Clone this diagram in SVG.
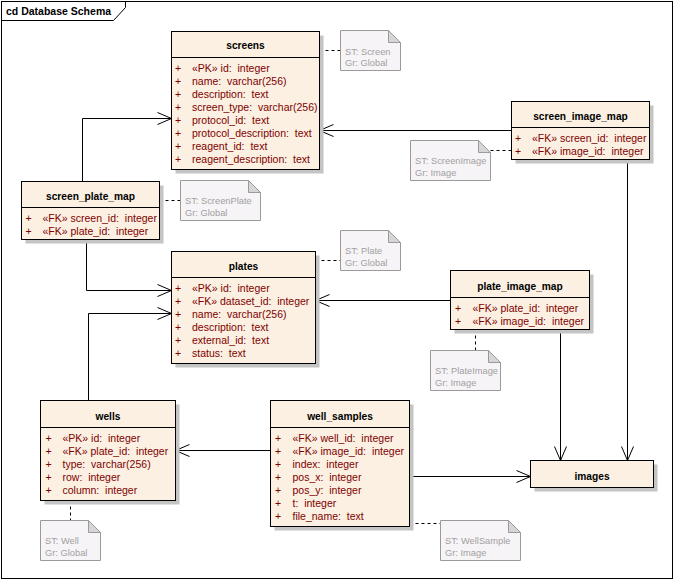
<svg xmlns="http://www.w3.org/2000/svg" width="674" height="580" viewBox="0 0 674 580" xml:space="preserve">
<style>
.bg{fill:#ffffff}
.frame{fill:none;stroke:#000;stroke-width:1}
.ftitle{font-family:"Liberation Sans",Arial,sans-serif;font-size:10.5px;font-weight:bold;fill:#000}
.box{fill:#FBF0E2;stroke:#000;stroke-width:1}
.shadow{fill:#c4c4c4}
.sep{stroke:#000;stroke-width:1}
.title{font-family:"Liberation Sans",Arial,sans-serif;font-size:10.2px;font-weight:bold;fill:#000;text-anchor:middle}
.fld{font-family:"Liberation Sans",Arial,sans-serif;font-size:10.5px;fill:#800000;white-space:pre}
.note{fill:#F7F4F7;stroke:#9a9a9a;stroke-width:1}
.fold{fill:#d6d6d6;stroke:#9a9a9a;stroke-width:1}
.ntxt{font-family:"Liberation Sans",Arial,sans-serif;font-size:9.3px;fill:#a0a0a0}
.dash{fill:none;stroke:#000;stroke-width:1;stroke-dasharray:3,3}
.conn{fill:none;stroke:#000;stroke-width:1;marker-end:url(#arr)}
</style>
<defs>
<marker id="arr" markerUnits="userSpaceOnUse" markerWidth="16" markerHeight="14" viewBox="-15 -7 16 14" refX="0" refY="0" orient="auto">
<path d="M-14,-6 L0,0 L-14,6" fill="none" stroke="#000" stroke-width="1"/>
</marker>
</defs>
<rect class="bg" x="0" y="0" width="674" height="580"/>
<g id="frame">
<rect class="frame" x="1.5" y="1.5" width="671" height="577"/>
<path class="frame" d="M1.5,20.5 H113.5 L125.5,7.5 V1.5"/>
<text class="ftitle" x="6" y="15">cd Database Schema</text>
</g>
<g id="connectors">
<path class="conn" d="M511.5,130.5 H319.5"/>
<path class="conn" d="M627.5,159.5 V460.5"/>
<path class="conn" d="M82.5,181.5 V118.5 H171.5"/>
<path class="conn" d="M86.5,239.5 V290.5 H171.5"/>
<path class="conn" d="M450.5,300.5 H315.5"/>
<path class="conn" d="M560.5,329.5 V460.5"/>
<path class="conn" d="M88.5,400.5 V313.5 H171.5"/>
<path class="conn" d="M270.5,450.5 H175.5"/>
<path class="conn" d="M409.5,476.5 H530.5"/>
<path class="dash" d="M319.5,50.5 H340.5"/>
<path class="dash" d="M490.5,150.5 H511.5"/>
<path class="dash" d="M159.5,200.5 H180.5"/>
<path class="dash" d="M315.5,260.5 H340.5"/>
<path class="dash" d="M475.5,329.5 V350.5"/>
<path class="dash" d="M70.5,500.5 V520.5"/>
<path class="dash" d="M409.5,523.5 H440.5"/>
</g>
<g id="screens">
<rect class="shadow" x="175.5" y="35.5" width="148" height="138"/>
<rect class="box" x="171.5" y="31.5" width="148" height="138"/>
<line class="sep" x1="171.5" y1="57.5" x2="319.5" y2="57.5"/>
<text class="title" x="245.5" y="49">screens</text>
<text class="fld" x="175" y="72">+</text><text class="fld" x="192" y="72">«PK» id:  integer</text>
<text class="fld" x="175" y="85">+</text><text class="fld" x="192" y="85">name:  varchar(256)</text>
<text class="fld" x="175" y="98">+</text><text class="fld" x="192" y="98">description:  text</text>
<text class="fld" x="175" y="111">+</text><text class="fld" x="192" y="111">screen_type:  varchar(256)</text>
<text class="fld" x="175" y="124">+</text><text class="fld" x="192" y="124">protocol_id:  text</text>
<text class="fld" x="175" y="137">+</text><text class="fld" x="192" y="137">protocol_description:  text</text>
<text class="fld" x="175" y="150">+</text><text class="fld" x="192" y="150">reagent_id:  text</text>
<text class="fld" x="175" y="163">+</text><text class="fld" x="192" y="163">reagent_description:  text</text>
</g>
<g id="screen_image_map">
<rect class="shadow" x="515.5" y="105.5" width="138" height="58"/>
<rect class="box" x="511.5" y="101.5" width="138" height="58"/>
<line class="sep" x1="511.5" y1="127.5" x2="649.5" y2="127.5"/>
<text class="title" x="580.5" y="120">screen_image_map</text>
<text class="fld" x="515" y="142">+</text><text class="fld" x="532" y="142">«FK» screen_id:  integer</text>
<text class="fld" x="515" y="155">+</text><text class="fld" x="532" y="155">«FK» image_id:  integer</text>
</g>
<g id="screen_plate_map">
<rect class="shadow" x="25.5" y="185.5" width="138" height="58"/>
<rect class="box" x="21.5" y="181.5" width="138" height="58"/>
<line class="sep" x1="21.5" y1="207.5" x2="159.5" y2="207.5"/>
<text class="title" x="90.5" y="200">screen_plate_map</text>
<text class="fld" x="25.5" y="222">+</text><text class="fld" x="42.5" y="222">«FK» screen_id:  integer</text>
<text class="fld" x="25.5" y="235">+</text><text class="fld" x="42.5" y="235">«FK» plate_id:  integer</text>
</g>
<g id="plates">
<rect class="shadow" x="175.5" y="255.5" width="144" height="112"/>
<rect class="box" x="171.5" y="251.5" width="144" height="112"/>
<line class="sep" x1="171.5" y1="277.5" x2="315.5" y2="277.5"/>
<text class="title" x="243.5" y="270">plates</text>
<text class="fld" x="175" y="292">+</text><text class="fld" x="192" y="292">«PK» id:  integer</text>
<text class="fld" x="175" y="305">+</text><text class="fld" x="192" y="305">«FK» dataset_id:  integer</text>
<text class="fld" x="175" y="318">+</text><text class="fld" x="192" y="318">name:  varchar(256)</text>
<text class="fld" x="175" y="331">+</text><text class="fld" x="192" y="331">description:  text</text>
<text class="fld" x="175" y="344">+</text><text class="fld" x="192" y="344">external_id:  text</text>
<text class="fld" x="175" y="357">+</text><text class="fld" x="192" y="357">status:  text</text>
</g>
<g id="plate_image_map">
<rect class="shadow" x="454.5" y="274.5" width="139" height="59"/>
<rect class="box" x="450.5" y="270.5" width="139" height="59"/>
<line class="sep" x1="450.5" y1="297.5" x2="589.5" y2="297.5"/>
<text class="title" x="520" y="290">plate_image_map</text>
<text class="fld" x="455" y="312">+</text><text class="fld" x="472.5" y="312">«FK» plate_id:  integer</text>
<text class="fld" x="455" y="325">+</text><text class="fld" x="472.5" y="325">«FK» image_id:  integer</text>
</g>
<g id="wells">
<rect class="shadow" x="44.5" y="404.5" width="135" height="100"/>
<rect class="box" x="40.5" y="400.5" width="135" height="100"/>
<line class="sep" x1="40.5" y1="427.5" x2="175.5" y2="427.5"/>
<text class="title" x="108" y="420">wells</text>
<text class="fld" x="45.5" y="442">+</text><text class="fld" x="62.5" y="442">«PK» id:  integer</text>
<text class="fld" x="45.5" y="455">+</text><text class="fld" x="62.5" y="455">«FK» plate_id:  integer</text>
<text class="fld" x="45.5" y="468">+</text><text class="fld" x="62.5" y="468">type:  varchar(256)</text>
<text class="fld" x="45.5" y="481">+</text><text class="fld" x="62.5" y="481">row:  integer</text>
<text class="fld" x="45.5" y="494">+</text><text class="fld" x="62.5" y="494">column:  integer</text>
</g>
<g id="well_samples">
<rect class="shadow" x="274.5" y="404.5" width="139" height="126"/>
<rect class="box" x="270.5" y="400.5" width="139" height="126"/>
<line class="sep" x1="270.5" y1="427.5" x2="409.5" y2="427.5"/>
<text class="title" x="340" y="420">well_samples</text>
<text class="fld" x="275" y="442">+</text><text class="fld" x="292.5" y="442">«FK» well_id:  integer</text>
<text class="fld" x="275" y="455">+</text><text class="fld" x="292.5" y="455">«FK» image_id:  integer</text>
<text class="fld" x="275" y="468">+</text><text class="fld" x="292.5" y="468">index:  integer</text>
<text class="fld" x="275" y="481">+</text><text class="fld" x="292.5" y="481">pos_x:  integer</text>
<text class="fld" x="275" y="494">+</text><text class="fld" x="292.5" y="494">pos_y:  integer</text>
<text class="fld" x="275" y="507">+</text><text class="fld" x="292.5" y="507">t:  integer</text>
<text class="fld" x="275" y="520">+</text><text class="fld" x="292.5" y="520">file_name:  text</text>
</g>
<g id="images">
<rect class="shadow" x="534.5" y="464.5" width="123" height="27"/>
<rect class="box" x="530.5" y="460.5" width="123" height="27"/>
<text class="title" x="592" y="480">images</text>
</g>
<g id="note_screen">
<path class="note" d="M340.5,30.5 H388.5 L400.5,42.5 V70.5 H340.5 Z"/>
<path class="fold" d="M388.5,30.5 V42.5 H400.5 Z"/>
<text class="ntxt" x="345" y="54.5">ST: Screen</text>
<text class="ntxt" x="345" y="66">Gr: Global</text>
</g>
<g id="note_screen_image">
<path class="note" d="M410.5,140.5 H478.5 L490.5,152.5 V180.5 H410.5 Z"/>
<path class="fold" d="M478.5,140.5 V152.5 H490.5 Z"/>
<text class="ntxt" x="415" y="164">ST: ScreenImage</text>
<text class="ntxt" x="415" y="176">Gr: Image</text>
</g>
<g id="note_screen_plate">
<path class="note" d="M180.5,180.5 H248.5 L260.5,192.5 V220.5 H180.5 Z"/>
<path class="fold" d="M248.5,180.5 V192.5 H260.5 Z"/>
<text class="ntxt" x="185" y="204">ST: ScreenPlate</text>
<text class="ntxt" x="185" y="216">Gr: Global</text>
</g>
<g id="note_plate">
<path class="note" d="M340.5,230.5 H388.5 L400.5,242.5 V270.5 H340.5 Z"/>
<path class="fold" d="M388.5,230.5 V242.5 H400.5 Z"/>
<text class="ntxt" x="345" y="254">ST: Plate</text>
<text class="ntxt" x="345" y="266">Gr: Global</text>
</g>
<g id="note_plate_image">
<path class="note" d="M430.5,350.5 H488.5 L500.5,362.5 V390.5 H430.5 Z"/>
<path class="fold" d="M488.5,350.5 V362.5 H500.5 Z"/>
<text class="ntxt" x="435" y="374">ST: PlateImage</text>
<text class="ntxt" x="435" y="386">Gr: Image</text>
</g>
<g id="note_well">
<path class="note" d="M40.5,520.5 H88.5 L100.5,532.5 V560.5 H40.5 Z"/>
<path class="fold" d="M88.5,520.5 V532.5 H100.5 Z"/>
<text class="ntxt" x="45" y="544">ST: Well</text>
<text class="ntxt" x="45" y="556">Gr: Global</text>
</g>
<g id="note_well_sample">
<path class="note" d="M440.5,520.5 H508.5 L520.5,532.5 V560.5 H440.5 Z"/>
<path class="fold" d="M508.5,520.5 V532.5 H520.5 Z"/>
<text class="ntxt" x="445" y="544">ST: WellSample</text>
<text class="ntxt" x="445" y="556">Gr: Image</text>
</g>
</svg>
